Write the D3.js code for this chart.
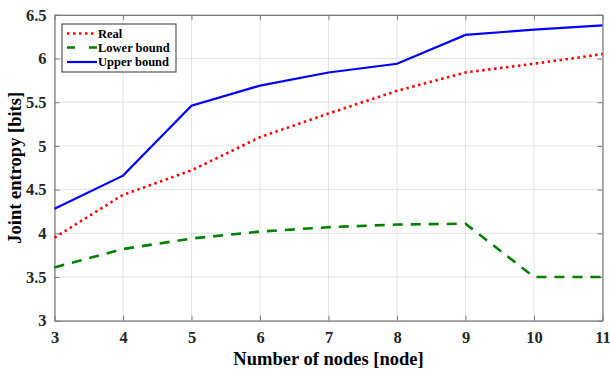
<!DOCTYPE html>
<html><head><meta charset="utf-8">
<script src="https://cdn.jsdelivr.net/npm/d3@7"></script>
<style>body{margin:0;background:#fff}svg{display:block}</style>
</head><body>
<svg id="c" width="610" height="369"></svg>
<script>
const nodes = [3,4,5,6,7,8,9,10,11];
const realVals  = [3.95,4.44,4.72,5.10,5.37,5.63,5.84,5.94,6.05];
const lowerVals = [3.61,3.82,3.94,4.02,4.07,4.10,4.11,3.50,3.50];
const upperVals = [4.28,4.66,5.46,5.69,5.84,5.94,6.27,6.33,6.38];
const yTicks = [3,3.5,4,4.5,5,5.5,6,6.5];
const seriesNames = ["Real","Lower bound","Upper bound"];

const svg = d3.select("#c");
const L=54.5, R=602.5, T=14.8, B=320.7;
const x = d3.scaleLinear().domain([3,11]).range([L,R]);
const y = d3.scaleLinear().domain([3,6.5]).range([B,T]);
const font = "'Times New Roman','Liberation Serif',serif";

// grid
const g = svg.append("g");
g.selectAll(".gx").data(nodes).enter().append("line")
  .attr("x1",d=>x(d)).attr("x2",d=>x(d)).attr("y1",T).attr("y2",B)
  .attr("stroke","#e3e3e3").attr("stroke-width",1);
g.selectAll(".gy").data(yTicks).enter().append("line")
  .attr("x1",L).attr("x2",R).attr("y1",d=>y(d)).attr("y2",d=>y(d))
  .attr("stroke","#e3e3e3").attr("stroke-width",1);

// axes
const axColor="#262626";
const xa = svg.append("g").attr("transform",`translate(0,${B})`)
  .call(d3.axisBottom(x).tickValues(nodes).tickFormat(d3.format("d")).tickSizeInner(-5).tickSizeOuter(0).tickPadding(10.5));
const xt = svg.append("g").attr("transform",`translate(0,${T})`)
  .call(d3.axisTop(x).tickValues(nodes).tickFormat("").tickSizeInner(-5).tickSizeOuter(0));
const ya = svg.append("g").attr("transform",`translate(${L},0)`)
  .call(d3.axisLeft(y).tickValues(yTicks).tickFormat(d=>String(d)).tickSizeInner(-5).tickSizeOuter(0).tickPadding(8));
const yr = svg.append("g").attr("transform",`translate(${R},0)`)
  .call(d3.axisRight(y).tickValues(yTicks).tickFormat("").tickSizeInner(-5).tickSizeOuter(0));
[xa,xt,ya,yr].forEach(a=>{
  a.selectAll("path").attr("stroke","#7a7a7a").attr("stroke-width",1.2);
  a.selectAll("line").attr("stroke","#7a7a7a");
  a.selectAll("text").attr("fill",axColor).style("font-family",font).style("font-weight","bold").style("font-size","16.5px");
});

// lines
const line = d3.line().x((d,i)=>x(nodes[i])).y(d=>y(d));
const styles = [
  {vals:realVals,color:"#ff0000",dash:"2.5,3.5",w:2.6},
  {vals:lowerVals,color:"#008000",dash:"10,8",w:2.6},
  {vals:upperVals,color:"#0000ff",dash:null,w:2.2}
];
styles.forEach(s=>{
  svg.append("path").datum(s.vals).attr("d",line).attr("fill","none")
    .attr("stroke",s.color).attr("stroke-width",s.w)
    .attr("stroke-dasharray",s.dash);
});

// legend
const lg = svg.append("g");
lg.append("rect").attr("x",62).attr("y",24).attr("width",114).attr("height",48)
  .attr("fill","#fff").attr("stroke","#333").attr("stroke-width",1);
const rowsY=[33.5,47.5,62];
styles.forEach((s,i)=>{
  lg.append("line").attr("x1",67).attr("x2",97).attr("y1",rowsY[i]).attr("y2",rowsY[i])
    .attr("stroke",s.color).attr("stroke-width",s.w)
    .attr("stroke-dasharray",i===1?"8,14":s.dash);
  lg.append("text").attr("x",98).attr("y",rowsY[i]+4).text(seriesNames[i])
    .style("font-family",font).style("font-weight","bold").style("font-size","12.5px").attr("fill","#000");
});

// axis labels
svg.append("text").attr("x",(L+R)/2).attr("y",364.5).attr("text-anchor","middle")
  .text("Number of nodes [node]")
  .style("font-family",font).style("font-weight","bold").style("font-size","18.5px").attr("fill","#000");
svg.append("text").attr("transform",`translate(21,${(T+B)/2}) rotate(-90)`).attr("text-anchor","middle")
  .text("Joint entropy [bits]")
  .style("font-family",font).style("font-weight","bold").style("font-size","18.5px").attr("fill","#000");
</script>
</body></html>
